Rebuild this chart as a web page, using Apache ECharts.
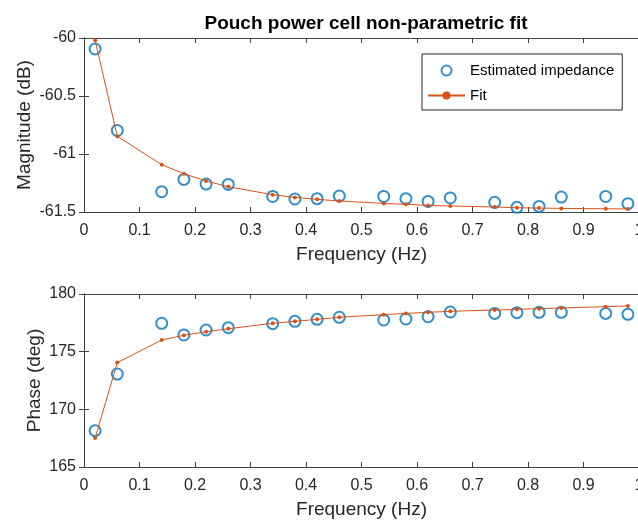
<!DOCTYPE html>
<html>
<head>
<meta charset="utf-8">
<script src="https://cdn.jsdelivr.net/npm/echarts@6/dist/echarts.min.js"></script>
<style>
  html, body { margin: 0; padding: 0; background: #fff; }
  #chart { width: 638px; height: 521px; }
</style>
</head>
<body>
<div id="chart"></div>
<script>
// frequencies (Hz) of the measured points
const freq = [0.02, 0.06, 0.14, 0.18, 0.22, 0.26, 0.34, 0.38, 0.42, 0.46,
  0.54, 0.58, 0.62, 0.66, 0.74, 0.78, 0.82, 0.86, 0.94, 0.98];

// magnitude (dB)
const magEst = [-60.095, -60.797, -61.325, -61.219, -61.259, -61.262, -61.366, -61.388, -61.385, -61.362,
  -61.366, -61.385, -61.409, -61.379, -61.417, -61.460, -61.452, -61.371, -61.366, -61.428];
const magFit = [-60.02, -60.848, -61.092, -61.170, -61.233, -61.282, -61.351, -61.374, -61.391, -61.405,
  -61.426, -61.434, -61.443, -61.448, -61.457, -61.463, -61.466, -61.469, -61.472, -61.474];

// phase (deg)
const phaseEst = [168.15, 173.06, 177.46, 176.45, 176.88, 177.08, 177.43, 177.63, 177.80, 177.98,
  177.75, 177.83, 178.03, 178.44, 178.32, 178.38, 178.41, 178.41, 178.32, 178.24];
const phaseFit = [167.51, 174.05, 176.01, 176.42, 176.73, 176.99, 177.46, 177.63, 177.80, 177.98,
  178.21, 178.32, 178.41, 178.50, 178.61, 178.67, 178.73, 178.79, 178.90, 178.96];

const blue = '#0072BD';
const orange = '#D95319';
const axisColor = '#404040';
const font = 'Liberation Sans, Arial, Helvetica, sans-serif';

const pairs = (ys) => freq.map((f, i) => [f, ys[i]]);

function xAxes (gridIndex) {
  return [{
    gridIndex: gridIndex,
    type: 'value',
    min: 0,
    max: 1,
    interval: 0.1,
    name: 'Frequency (Hz)',
    nameLocation: 'middle',
    nameGap: 33,
    nameMoveOverlap: false,
    nameTextStyle: { color: '#262626', fontSize: 19, fontFamily: font },
    axisLine: { show: true, lineStyle: { color: axisColor, width: 1 } },
    axisTick: { show: true, inside: true, length: 5, lineStyle: { color: axisColor } },
    splitLine: { show: false },
    axisLabel: {
      color: '#262626', fontSize: 16, fontFamily: font, margin: 11,
      formatter: v => (v === 0 || v === 1) ? String(v) : v.toFixed(1)
    }
  }, {
    gridIndex: gridIndex,
    type: 'value',
    position: 'top',
    min: 0,
    max: 1,
    interval: 0.1,
    axisLine: { show: true, lineStyle: { color: axisColor, width: 1 } },
    axisTick: { show: true, inside: true, length: 5, lineStyle: { color: axisColor } },
    splitLine: { show: false },
    axisLabel: { show: false }
  }];
}

function yAxes (gridIndex, min, max, interval, name, gap) {
  return [{
    gridIndex: gridIndex,
    type: 'value',
    min: min,
    max: max,
    interval: interval,
    name: name,
    nameLocation: 'middle',
    nameGap: gap,
    nameMoveOverlap: false,
    nameTextStyle: { color: '#262626', fontSize: 19, fontFamily: font },
    axisLine: { show: true, lineStyle: { color: axisColor, width: 1 } },
    axisTick: { show: true, inside: true, length: 5, lineStyle: { color: axisColor } },
    splitLine: { show: false },
    axisLabel: { color: '#262626', fontSize: 16, fontFamily: font, margin: 8 }
  }, {
    gridIndex: gridIndex,
    type: 'value',
    position: 'right',
    min: min,
    max: max,
    interval: interval,
    axisLine: { show: true, lineStyle: { color: axisColor, width: 1 } },
    axisTick: { show: true, inside: true, length: 5, lineStyle: { color: axisColor } },
    splitLine: { show: false },
    axisLabel: { show: false }
  }];
}

let myChart = echarts.init(document.getElementById('chart'));
let option = {
  animation: false,
  backgroundColor: '#fff',
  title: {
    text: 'Pouch power cell non-parametric fit',
    left: 361,
    top: 9,
    textAlign: 'center',
    textStyle: { color: '#000', fontSize: 19, fontWeight: 'bold', fontFamily: font }
  },
  legend: {
    data: ['Estimated impedance', 'Fit'],
    orient: 'vertical',
    left: 422,
    top: 54,
    itemWidth: 37,
    itemHeight: 10,
    itemGap: 10,
    padding: [9, 8, 7, 5],
    borderColor: '#262626',
    borderWidth: 1,
    borderRadius: 0,
    backgroundColor: '#fff',
    textStyle: { color: '#000', fontSize: 15, fontFamily: font }
  },
  grid: [
    { left: 84, right: -1, top: 38, height: 174, outerBoundsMode: 'none' },
    { left: 84, right: -1, top: 294, height: 173, outerBoundsMode: 'none' }
  ],
  xAxis: xAxes(0).concat(xAxes(1)),
  yAxis: yAxes(0, -61.5, -60, 0.5, 'Magnitude (dB)', 50)
    .concat(yAxes(1, 165, 180, 5, 'Phase (deg)', 40)),
  series: [{
    name: 'Estimated impedance',
    type: 'scatter',
    xAxisIndex: 0,
    yAxisIndex: 0,
    data: pairs(magEst),
    symbol: 'emptyCircle',
    symbolSize: 11,
    itemStyle: { color: blue, borderColor: blue, borderWidth: 1 }
  }, {
    name: 'Fit',
    type: 'line',
    xAxisIndex: 0,
    yAxisIndex: 0,
    data: pairs(magFit),
    symbol: 'circle',
    symbolSize: 4,
    showAllSymbol: true,
    itemStyle: { color: orange },
    lineStyle: { color: orange, width: 1 }
  }, {
    name: 'Estimated impedance',
    type: 'scatter',
    xAxisIndex: 2,
    yAxisIndex: 2,
    data: pairs(phaseEst),
    symbol: 'emptyCircle',
    symbolSize: 11,
    itemStyle: { color: blue, borderColor: blue, borderWidth: 1 }
  }, {
    name: 'Fit',
    type: 'line',
    xAxisIndex: 2,
    yAxisIndex: 2,
    data: pairs(phaseFit),
    symbol: 'circle',
    symbolSize: 4,
    showAllSymbol: true,
    itemStyle: { color: orange },
    lineStyle: { color: orange, width: 1 }
  }]
};
myChart.setOption(option, true);

window.addEventListener('resize', () => {
  myChart.resize();
});
</script>
</body>
</html>
